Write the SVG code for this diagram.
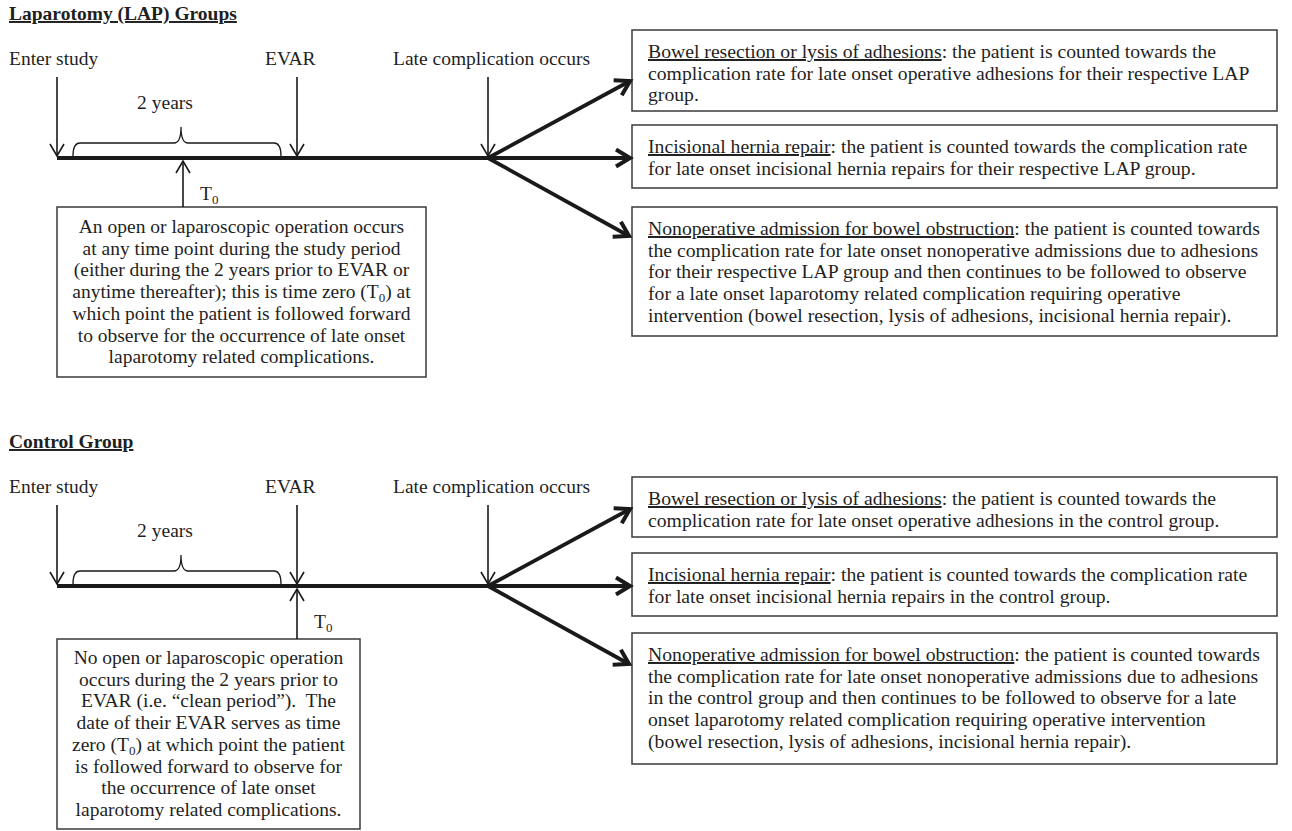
<svg xmlns="http://www.w3.org/2000/svg" width="1292" height="831" viewBox="0 0 1292 831">
<defs>
<style>
text{font-family:"Liberation Serif","Times New Roman",serif;font-size:19.5px;fill:#1f1f1f}
.title{font-weight:bold;text-decoration:underline}
.c{text-anchor:middle}
.u{text-decoration:underline}
.r{font-size:19.7px}
.box{fill:#fff;stroke:#3a3a3a;stroke-width:1.5}
.thin{fill:none;stroke:#1a1a1a;stroke-width:1.6}
.thick{fill:none;stroke:#1a1a1a;stroke-width:3.8}
.brace{fill:none;stroke:#1a1a1a;stroke-width:1.3}
.sub{font-size:13px}
</style>
<marker id="ah-thin" markerUnits="userSpaceOnUse" markerWidth="16" markerHeight="20" viewBox="-14 -10 16 20" refX="0" refY="0" orient="auto">
<path d="M-12,-7 L0,0 L-12,7" fill="none" stroke="#1a1a1a" stroke-width="1.6"/>
</marker>
<marker id="ah-thick" markerUnits="userSpaceOnUse" markerWidth="24" markerHeight="26" viewBox="-20 -13 24 26" refX="0" refY="0" orient="auto">
<path d="M-14,-8.5 L0,0 L-14,8.5" fill="none" stroke="#1a1a1a" stroke-width="4"/>
</marker>
</defs>
<rect width="1292" height="831" fill="#fff"/>

<!-- ===== LAP section ===== -->
<g id="lap-title"><text x="9" y="20" class="title">Laparotomy (LAP) Groups</text></g>
<g id="lap-enter-label"><text x="9" y="65">Enter study</text></g>
<g id="lap-evar-label"><text x="265" y="65">EVAR</text></g>
<g id="lap-late-label"><text x="393" y="65">Late complication occurs</text></g>
<g id="lap-2years"><text x="165" y="109" class="c">2 years</text></g>
<g id="lap-t0-label"><text x="200" y="200">T<tspan class="sub" dy="4">0</tspan></text></g>

<g id="lap-t0-box">
<rect class="box" x="57" y="207" width="369" height="170"/>
<text class="c" x="241.5" y="233">An open or laparoscopic operation occurs</text>
<text class="c" x="241.5" y="254.7">at any time point during the study period</text>
<text class="c" x="241.5" y="276.4">(either during the 2 years prior to EVAR or</text>
<text class="c" x="241.5" y="298.1">anytime thereafter); this is time zero (T<tspan class="sub" dy="4">0</tspan><tspan dy="-4">) at</tspan></text>
<text class="c" x="241.5" y="319.8">which point the patient is followed forward</text>
<text class="c" x="241.5" y="341.5">to observe for the occurrence of late onset</text>
<text class="c" x="241.5" y="363.2">laparotomy related complications.</text>
</g>

<g id="lap-box-resection" class="r">
<rect class="box" x="632" y="30" width="645" height="81"/>
<text class="r" x="648" y="58"><tspan class="u">Bowel resection or lysis of adhesions</tspan>: the patient is counted towards the</text>
<text class="r" x="648" y="79.7">complication rate for late onset operative adhesions for their respective LAP</text>
<text class="r" x="648" y="101.4">group.</text>
</g>
<g id="lap-box-hernia">
<rect class="box" x="632" y="125" width="645" height="63"/>
<text class="r" x="648" y="153"><tspan class="u">Incisional hernia repair</tspan>: the patient is counted towards the complication rate</text>
<text class="r" x="648" y="174.7">for late onset incisional hernia repairs for their respective LAP group.</text>
</g>
<g id="lap-box-nonop">
<rect class="box" x="632" y="207" width="645" height="129"/>
<text class="r" x="648" y="235"><tspan class="u">Nonoperative admission for bowel obstruction</tspan>: the patient is counted towards</text>
<text class="r" x="648" y="256.7">the complication rate for late onset nonoperative admissions due to adhesions</text>
<text class="r" x="648" y="278.4">for their respective LAP group and then continues to be followed to observe</text>
<text class="r" x="648" y="300.1">for a late onset laparotomy related complication requiring operative</text>
<text class="r" x="648" y="321.8">intervention (bowel resection, lysis of adhesions, incisional hernia repair).</text>
</g>

<!-- ===== Control section ===== -->
<g id="ctl-title"><text x="9" y="448" class="title">Control Group</text></g>
<g id="ctl-enter-label"><text x="9" y="493">Enter study</text></g>
<g id="ctl-evar-label"><text x="265" y="493">EVAR</text></g>
<g id="ctl-late-label"><text x="393" y="493">Late complication occurs</text></g>
<g id="ctl-2years"><text x="165" y="537" class="c">2 years</text></g>
<g id="ctl-t0-label"><text x="314" y="628">T<tspan class="sub" dy="4">0</tspan></text></g>

<g id="ctl-t0-box">
<rect class="box" x="57" y="639" width="303" height="190"/>
<text class="c" x="208.5" y="664">No open or laparoscopic operation</text>
<text class="c" x="208.5" y="685.7">occurs during the 2 years prior to</text>
<text class="c" x="208.5" y="707.4">EVAR (i.e. “clean period”).&#160; The</text>
<text class="c" x="208.5" y="729.1">date of their EVAR serves as time</text>
<text class="c" x="208.5" y="750.8">zero (T<tspan class="sub" dy="4">0</tspan><tspan dy="-4">) at which point the patient</tspan></text>
<text class="c" x="208.5" y="772.5">is followed forward to observe for</text>
<text class="c" x="208.5" y="794.2">the occurrence of late onset</text>
<text class="c" x="208.5" y="815.9">laparotomy related complications.</text>
</g>

<g id="ctl-box-resection">
<rect class="box" x="632" y="477" width="645" height="60"/>
<text class="r" x="648" y="505"><tspan class="u">Bowel resection or lysis of adhesions</tspan>: the patient is counted towards the</text>
<text class="r" x="648" y="526.7">complication rate for late onset operative adhesions in the control group.</text>
</g>
<g id="ctl-box-hernia">
<rect class="box" x="632" y="553" width="645" height="63"/>
<text class="r" x="648" y="581"><tspan class="u">Incisional hernia repair</tspan>: the patient is counted towards the complication rate</text>
<text class="r" x="648" y="602.7">for late onset incisional hernia repairs in the control group.</text>
</g>
<g id="ctl-box-nonop">
<rect class="box" x="632" y="633" width="645" height="131"/>
<text class="r" x="648" y="661"><tspan class="u">Nonoperative admission for bowel obstruction</tspan>: the patient is counted towards</text>
<text class="r" x="648" y="682.7">the complication rate for late onset nonoperative admissions due to adhesions</text>
<text class="r" x="648" y="704.4">in the control group and then continues to be followed to observe for a late</text>
<text class="r" x="648" y="726.1">onset laparotomy related complication requiring operative intervention</text>
<text class="r" x="648" y="747.8">(bowel resection, lysis of adhesions, incisional hernia repair).</text>
</g>

<!-- ===== connectors ===== -->
<g id="connectors">
<!-- LAP -->
<line class="thick" x1="57" y1="158" x2="630" y2="158" marker-end="url(#ah-thick)"/>
<line class="thick" x1="488" y1="158" x2="630" y2="81" marker-end="url(#ah-thick)"/>
<line class="thick" x1="488" y1="158" x2="629" y2="236" marker-end="url(#ah-thick)"/>
<line class="thin" x1="57" y1="77" x2="57" y2="156" marker-end="url(#ah-thin)"/>
<line class="thin" x1="297" y1="77" x2="297" y2="156" marker-end="url(#ah-thin)"/>
<line class="thin" x1="488" y1="77" x2="488" y2="156" marker-end="url(#ah-thin)"/>
<line class="thin" x1="183" y1="207" x2="183" y2="161" marker-end="url(#ah-thin)"/>
<path class="brace" d="M73,156 Q73,143 80,143 L174,143 Q181,143 181,127 Q181,143 188,143 L274,143 Q281,143 281,156"/>
<!-- Control -->
<line class="thick" x1="57" y1="586" x2="630" y2="586" marker-end="url(#ah-thick)"/>
<line class="thick" x1="488" y1="586" x2="630" y2="509" marker-end="url(#ah-thick)"/>
<line class="thick" x1="488" y1="586" x2="629" y2="664" marker-end="url(#ah-thick)"/>
<line class="thin" x1="57" y1="505" x2="57" y2="584" marker-end="url(#ah-thin)"/>
<line class="thin" x1="297" y1="505" x2="297" y2="584" marker-end="url(#ah-thin)"/>
<line class="thin" x1="488" y1="505" x2="488" y2="584" marker-end="url(#ah-thin)"/>
<line class="thin" x1="297" y1="639" x2="297" y2="589" marker-end="url(#ah-thin)"/>
<path class="brace" d="M73,584 Q73,571 80,571 L174,571 Q181,571 181,555 Q181,571 188,571 L274,571 Q281,571 281,584"/>
</g>
</svg>
